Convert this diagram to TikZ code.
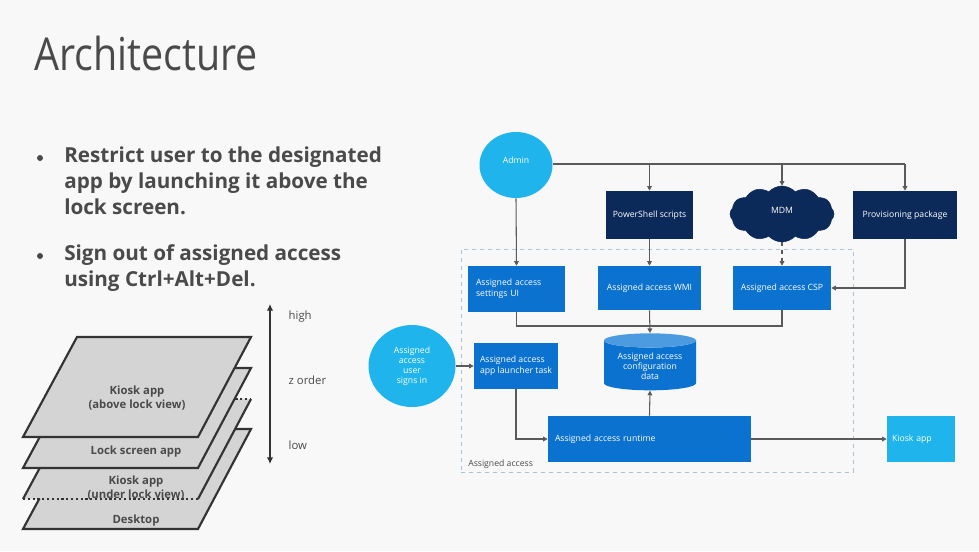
\documentclass[tikz,border=0pt]{standalone}
\usepackage{fontspec}
\setmainfont{Open Sans}
\newfontfamily\titlefont[FakeStretch=0.87]{Open Sans}
\usetikzlibrary{shapes.geometric,shapes.symbols,arrows.meta}
\definecolor{bg}{HTML}{F8F8F8}
\definecolor{txt}{HTML}{4A4A4A}
\definecolor{cyanc}{HTML}{1FB5EC}
\definecolor{navy}{HTML}{0B2A5A}
\definecolor{blue}{HTML}{0C72CF}
\definecolor{bluetop}{HTML}{4C9BE0}
\definecolor{conn}{HTML}{5A5A5A}
\definecolor{frame}{HTML}{A8C3D6}
\definecolor{layerfill}{HTML}{D4D4D4}
\definecolor{layerline}{HTML}{333333}
\tikzset{
  bx/.style 2 args={rectangle, minimum width=#1*0.75pt, minimum height=#2*0.75pt, inner sep=0pt},
  dtext/.style={text=white, font=\fontsize{6.5}{8}\selectfont},
  darkbox/.style={fill=navy, dtext, align=center},
  bluebox/.style={fill=blue, dtext},
  ln/.style={draw=conn, line width=0.8pt},
  arr/.style={ln, -{Triangle[length=3.5pt,width=3.5pt]}},
  layer/.style={fill=layerfill, draw=layerline, line width=1.6pt, line join=miter},
  ltext/.style={text=txt, font=\bfseries\fontsize{8.5}{10.5}\selectfont, align=center},
  ztext/.style={text=txt, font=\fontsize{8.5}{10}\selectfont, anchor=west},
}
\begin{document}
\begin{tikzpicture}[x=0.75pt,y=-0.75pt]
\fill[bg] (0,0) rectangle (979,551);
\useasboundingbox (0,0) rectangle (979,551);

% title and bullets
\node[anchor=base west, inner sep=0pt, text=txt, font=\titlefont\fontsize{34}{40}\selectfont] (title) at (34,70) {Architecture};
\node[circle, fill=txt, inner sep=0pt, minimum size=4.5pt] (d1) at (40,158) {};
\node[circle, fill=txt, inner sep=0pt, minimum size=4.5pt] (d2) at (40,256) {};
\node[anchor=north west, inner sep=0pt, align=left, text=txt, font=\bfseries\fontsize{15.5}{19.5}\selectfont] (b1) at (64,147)
  {Restrict user to the designated\\app by launching it above the\\lock screen.};
\node[anchor=north west, inner sep=0pt, align=left, text=txt, font=\bfseries\fontsize{15.5}{19.5}\selectfont] (b2) at (64,244)
  {Sign out of assigned access\\using Ctrl+Alt+Del.};

% layers
\draw[layer] (77,429) -- (251,429) -- (198,529) -- (23,529) -- cycle;
\fill[layerfill] (77,399) -- (251,399) -- (198,499) -- (23,499) -- cycle;
\draw[layerline, line width=1.6pt] (23,499) -- (77,399) (251,399) -- (198,499);
\draw[layerline, line width=1.6pt, dotted] (77,399) -- (251,399) (198,499) -- (23,499);
\draw[layer] (77,368) -- (251,368) -- (198,468) -- (23,468) -- cycle;
\draw[layer] (77,337) -- (251,337) -- (198,437) -- (23,437) -- cycle;
\node[ltext] (l1) at (137,398) {Kiosk app\\(above lock view)};
\node[ltext] (l2) at (136,452) {Lock screen app};
\node[ltext] (l3) at (136,488) {Kiosk app\\(under lock view)};
\node[ltext] (l4) at (136,521) {Desktop};
\coordinate (zt) at (270,304);
\coordinate (zb) at (270,464);
\draw[layerline, line width=1.5pt, {Latex[length=5pt,width=5pt]}-{Latex[length=5pt,width=5pt]}] (zt) -- (zb);
\node[ztext] (zh) at (284,317) {high};
\node[ztext] (zo) at (284,380) {z order};
\node[ztext] (zl) at (284,445) {low};

% right diagram
\node[draw=frame, dashed, line width=0.7pt, bx={392}{223}, anchor=north west] (frame) at (461,249) {};
\node[anchor=base west, inner sep=0pt, text=txt, font=\fontsize{6.5}{8}\selectfont] (framelbl) at (468,466) {Assigned access};

\node[ellipse, fill=cyanc, minimum width=73*0.75pt, minimum height=66*0.75pt, inner sep=0pt, dtext] (admin) at (516,165) {\raisebox{7pt}{Admin}};
\node[darkbox, bx={87}{48}] (ps) at (649.5,215) {PowerShell scripts};
\node[cloud, cloud puffs=12, cloud puff arc=95, aspect=1.8, fill=navy, draw=navy, minimum width=104*0.75pt, minimum height=56*0.75pt, inner sep=0pt, dtext] (mdm) at (782,214) {\raisebox{5pt}{MDM}};
\node[darkbox, bx={104}{48}] (prov) at (905,215) {Provisioning package};

\node[bluebox, bx={97}{46}, text width=81*0.75pt, align=left] (ui) at (516.5,289) {Assigned access\\settings UI};
\node[bluebox, bx={103}{44}, align=center] (wmi) at (649.5,288) {Assigned access WMI};
\node[bluebox, bx={98}{44}, align=center] (csp) at (782,288) {Assigned access CSP};

\node[ellipse, fill=cyanc, minimum width=87*0.75pt, minimum height=82*0.75pt, inner sep=0pt, dtext, align=center, font=\fontsize{6.5}{7.5}\selectfont] (user) at (412,366) {Assigned\\access\\user\\signs in};
\node[bluebox, bx={84}{46}, align=left] (launch) at (516,366) {Assigned access\\app launcher task};
\node[cylinder, shape border rotate=90, aspect=0.22, cylinder uses custom fill, cylinder body fill=blue, cylinder end fill=bluetop, minimum width=92*0.75pt, minimum height=57*0.75pt, inner sep=0pt, dtext, align=center, font=\fontsize{6.5}{7.5}\selectfont] (db) at (650,365.5) {\\[-2pt]Assigned access\\configuration\\data};
\node[bluebox, bx={203}{46}, text width=189*0.75pt, align=left] (run) at (649.5,439) {Assigned access runtime};
\node[fill=cyanc, bx={68}{46}, dtext, text width=58*0.75pt, align=left] (kiosk) at (921,439) {Kiosk app};

% connectors
\coordinate (bus) at (649.5,164);
\draw[ln] (admin.east |- bus) -- (prov.north |- bus);
\draw[arr] (ps.north |- bus) -- (ps.north);
\draw[arr] (mdm.north |- bus) -- (mdm.north);
\draw[arr] (prov.north |- bus) -- (prov.north);
\draw[arr] (admin.south) -- (ui.north);
\draw[arr] (ps.south) -- (wmi.north);
\draw[arr, dashed] (mdm.south) -- (csp.north);
\draw[arr] (prov.south) |- (csp.east);
\coordinate (mid) at (649.5,326);
\draw[ln] (ui.south) |- (csp.south |- mid) -- (csp.south);
\draw[arr] (wmi.south) -- (db.north);
\draw[arr] (user.east) -- (launch.west);
\draw[arr] (launch.south) |- (run.west);
\draw[arr] (run.north) -- (db.south);
\draw[arr] (run.east) -- (kiosk.west);
\end{tikzpicture}
\end{document}
